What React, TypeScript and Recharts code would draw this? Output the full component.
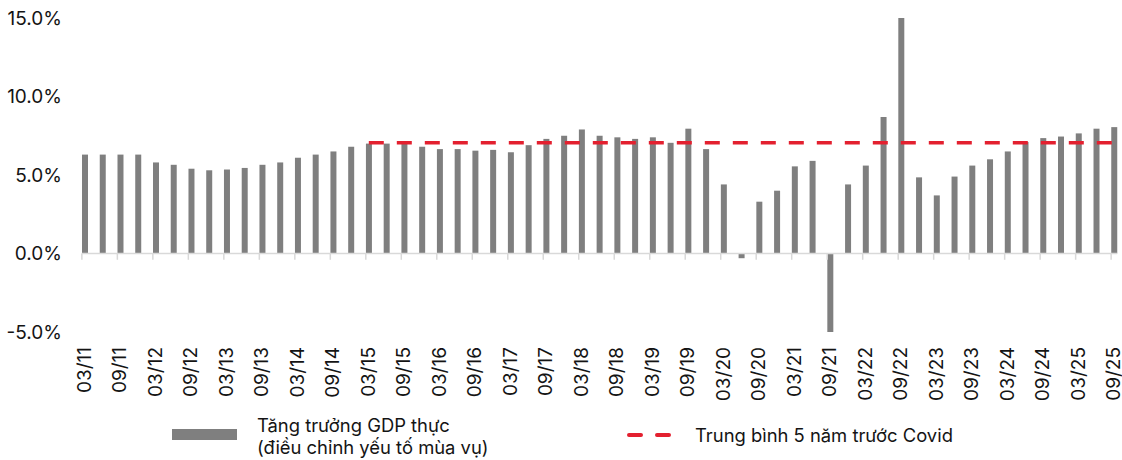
import { ComposedChart, Bar, Line, XAxis, YAxis, ReferenceLine } from "recharts"

// quarter-end labels, 03/11 .. 09/25
const quarters = [
  "03/11", "06/11", "09/11", "12/11",
  "03/12", "06/12", "09/12", "12/12",
  "03/13", "06/13", "09/13", "12/13",
  "03/14", "06/14", "09/14", "12/14",
  "03/15", "06/15", "09/15", "12/15",
  "03/16", "06/16", "09/16", "12/16",
  "03/17", "06/17", "09/17", "12/17",
  "03/18", "06/18", "09/18", "12/18",
  "03/19", "06/19", "09/19", "12/19",
  "03/20", "06/20", "09/20", "12/20",
  "03/21", "06/21", "09/21", "12/21",
  "03/22", "06/22", "09/22", "12/22",
  "03/23", "06/23", "09/23", "12/23",
  "03/24", "06/24", "09/24", "12/24",
  "03/25", "06/25", "09/25",
]

// real GDP growth, seasonally adjusted (%)
const gdpGrowth = [
  6.3, 6.3, 6.3, 6.3,
  5.8, 5.65, 5.4, 5.3,
  5.35, 5.45, 5.65, 5.8,
  6.1, 6.3, 6.5, 6.8,
  7.0, 7.0, 7.05, 6.8,
  6.65, 6.65, 6.55, 6.6,
  6.45, 6.9, 7.3, 7.5,
  7.9, 7.5, 7.4, 7.3,
  7.4, 7.05, 7.95, 6.65,
  4.4, -0.3, 3.3, 4.0,
  5.55, 5.9, -5.0, 4.4,
  5.6, 8.7, 15.0, 4.85,
  3.7, 4.9, 5.6, 6.0,
  6.5, 7.1, 7.35, 7.45,
  7.65, 7.95, 8.05,
]

// 5-year pre-Covid average, drawn from 03/15 onward
const preCovidAvg = 7.05
const avgStart = "03/15"

const yTicks = [-5, 0, 5, 10, 15]

const startIdx = quarters.indexOf(avgStart)
const data = quarters.map((q, i) => ({
  q,
  gdp: gdpGrowth[i],
  avg: i >= startIdx ? preCovidAvg : null,
}))

const BAR = "#7f7f7f"
const RED = "#e3202f"
const AXIS = "#d9d9d9"
const INK = "#141414"
const FONT = "Inter, 'Liberation Sans', sans-serif"

function QuarterTick({ x, y, payload }: any) {
  return (
    <text x={x} y={y} dy="0.32em" transform={`rotate(-90, ${x}, ${y})`}
      textAnchor="end" fontSize={19} fill={INK} fontFamily={FONT}>
      {payload.value}
    </text>
  )
}

// zero axis sits a few px wider than the first/last bar centres
const ZeroLine = (p: any) => (
  <line x1={p.x1 - 3} x2={p.x2 + 3} y1={p.y1} y2={p.y2} stroke={AXIS} strokeWidth={1.5} />
)
const ZeroTick = (p: any) => (
  <line x1={p.x1 - 3} x2={p.x2 - 3} y1={p.y1} y2={p.y2} stroke={AXIS} strokeWidth={1.5} />
)

export default function App() {
  return (
    <div style={{ position: "absolute", left: 0, top: 0, width: 1122, height: 460, overflow: "hidden", fontFamily: FONT, background: "#fff" }}>
      <ComposedChart width={1123} height={400} data={data} margin={{ top: 18, right: 0, left: 0, bottom: 0 }}>
        <YAxis
          domain={[-5, 15]}
          ticks={yTicks}
          width={76}
          axisLine={false}
          tickLine={false}
          tickSize={0}
          tickMargin={14}
          tick={{ fontSize: 19, fill: INK }}
          tickFormatter={(v: number) => `${v.toFixed(1)}%`}
        />
        <XAxis
          dataKey="q"
          interval={1}
          height={68}
          axisLine={false}
          tickLine={false}
          tickSize={0}
          tickMargin={15}
          tick={<QuarterTick />}
        />
        <ReferenceLine
          segment={[{ x: quarters[0], y: 0 }, { x: quarters[quarters.length - 1], y: 0 }]}
          shape={ZeroLine}
        />
        {quarters.filter((_, i) => i % 2 === 0).map((q) => (
          <ReferenceLine key={q} segment={[{ x: q, y: 0 }, { x: q, y: -0.4 }]} shape={ZeroTick} />
        ))}
        <Bar dataKey="gdp" fill={BAR} barSize={6} isAnimationActive={false} />
        <Line
          dataKey="avg"
          type="linear"
          stroke={RED}
          strokeWidth={3.5}
          strokeDasharray="15 13"
          dot={false}
          activeDot={false}
          isAnimationActive={false}
        />
      </ComposedChart>

      {/* legend */}
      <div style={{ position: "absolute", left: 172, top: 429, width: 65, height: 11, background: BAR }} />
      <div style={{ position: "absolute", left: 257, top: 414, fontSize: 18.4, lineHeight: "22px", color: INK, whiteSpace: "nowrap" }}>
        Tăng trưởng GDP thực<br />(điều chỉnh yếu tố mùa vụ)
      </div>
      <svg style={{ position: "absolute", left: 626, top: 429 }} width={52} height={12}>
        <line x1={3} x2={47} y1={6} y2={6} stroke={RED} strokeWidth={4} strokeDasharray="12 16" strokeLinecap="round" />
      </svg>
      <div style={{ position: "absolute", left: 695, top: 424, fontSize: 18.4, lineHeight: "22px", color: INK, whiteSpace: "nowrap" }}>
        Trung bình 5 năm trước Covid
      </div>
    </div>
  )
}
